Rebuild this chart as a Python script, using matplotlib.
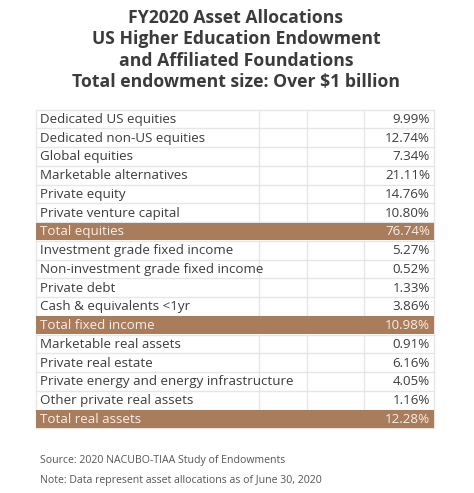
import matplotlib
matplotlib.use("Agg")
import matplotlib.pyplot as plt
from matplotlib.patches import Rectangle

title_lines = ["FY2020 Asset Allocations",
               "US Higher Education Endowment",
               "and Affiliated Foundations",
               "Total endowment size: Over $1 billion"]

categories = ["Dedicated US equities", "Dedicated non-US equities", "Global equities",
              "Marketable alternatives", "Private equity", "Private venture capital",
              "Total equities",
              "Investment grade fixed income", "Non-investment grade fixed income",
              "Private debt", "Cash & equivalents <1yr",
              "Total fixed income",
              "Marketable real assets", "Private real estate",
              "Private energy and energy infrastructure", "Other private real assets",
              "Total real assets"]
values = [9.99, 12.74, 7.34, 21.11, 14.76, 10.80, 76.74,
          5.27, 0.52, 1.33, 3.86, 10.98,
          0.91, 6.16, 4.05, 1.16, 12.28]
is_total = [c.startswith("Total") for c in categories]

source_text = "Source: 2020 NACUBO-TIAA Study of Endowments"
note_text = "Note: Data represent asset allocations as of June 30, 2020"

W, H = 474, 493
fig = plt.figure(figsize=(W / 100, H / 100), dpi=100)
ax = fig.add_axes([0, 0, 1, 1])
ax.set_xlim(0, W)
ax.set_ylim(H, 0)
ax.axis("off")

title_color = "#3b3b3b"
for i, line in enumerate(title_lines):
    ax.text(236, 18 + i * 21.3, line, ha="center", va="center", fontsize=12.7,
            fontweight="bold", family="Open Sans", color=title_color)

left, right = 36, 434
top, row_h = 109.5, 18.75
col_x = [259, 307, 364]
grid_c = "#e6e6e6"
band_c = "#a97c5b"
n = len(categories)

for i, (cat, val, tot) in enumerate(zip(categories, values, is_total)):
    y0 = top + i * row_h
    yc = y0 + row_h / 2 + 0.5
    if tot:
        ax.add_patch(Rectangle((left, y0 + 0.5), right - left, row_h - 1,
                               facecolor=band_c, edgecolor="none", zorder=2))
        tc = "#f7efe8"
    else:
        tc = "#3c3c3c"
        for cx in col_x:
            ax.plot([cx, cx], [y0, y0 + row_h], color=grid_c, lw=1, zorder=1)
    ax.plot([left, right], [y0, y0], color=grid_c, lw=1, zorder=1)
    ax.text(left + 4, yc, cat, ha="left", va="center", fontsize=9.6,
            family="Open Sans", color=tc, zorder=3)
    ax.text(right - 4, yc, f"{val:.2f}%", ha="right", va="center", fontsize=9.6,
            family="Open Sans", color=tc, zorder=3)

bottom = top + n * row_h
ax.plot([left, right], [bottom, bottom], color=grid_c, lw=1, zorder=1)
ax.plot([left, left], [top, bottom], color=grid_c, lw=1, zorder=1)
ax.plot([right, right], [top, bottom], color=grid_c, lw=1, zorder=1)

ax.text(40, 461, source_text, ha="left", va="center", fontsize=7.6,
        family="Open Sans", color="#555555")
ax.text(40, 481, note_text, ha="left", va="center", fontsize=7.6,
        family="Open Sans", color="#555555")

fig.savefig("out.png", dpi=100, facecolor="white")
